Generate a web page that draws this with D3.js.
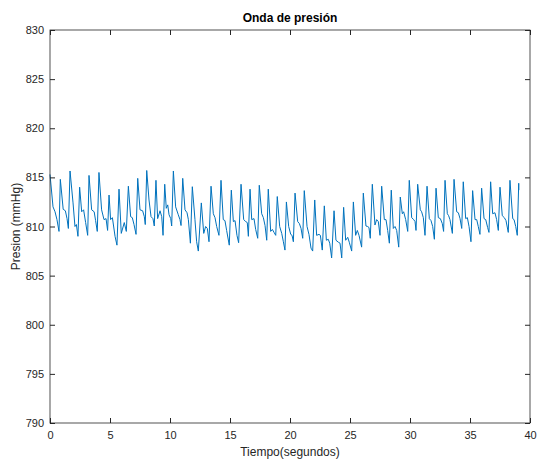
<!DOCTYPE html>
<html>
<head>
<meta charset="utf-8">
<title>Onda de presión</title>
<script src="https://d3js.org/d3.v7.min.js"></script>
<style>
  body { margin: 0; background: #fff; font-family: "Liberation Sans", Arial, sans-serif; }
</style>
</head>
<body>
<svg id="chart" width="537" height="459"></svg>
<script>
var tiempo = [
  0.00, 0.25, 0.42, 0.58, 0.75, 0.86, 1.10, 1.28, 1.42, 1.53,
  1.67, 1.92, 2.08, 2.20, 2.33, 2.47, 2.64, 2.80, 2.97, 3.14,
  3.25, 3.47, 3.68, 3.80, 3.94, 4.08, 4.30, 4.50, 4.67, 4.80,
  4.92, 5.05, 5.20, 5.42, 5.58, 5.75, 5.94, 6.19, 6.36, 6.53,
  6.72, 6.86, 7.00, 7.17, 7.31, 7.50, 7.72, 7.86, 7.94, 8.06,
  8.25, 8.42, 8.58, 8.69, 8.83, 8.97, 9.17, 9.31, 9.42, 9.56,
  9.69, 9.81, 9.92, 10.06, 10.14, 10.28, 10.47, 10.69, 10.83, 10.92,
  11.06, 11.25, 11.42, 11.53, 11.70, 11.86, 12.08, 12.22, 12.36, 12.61,
  12.81, 12.97, 13.11, 13.25, 13.42, 13.61, 13.75, 13.89, 14.08, 14.25,
  14.44, 14.58, 14.72, 14.94, 15.11, 15.28, 15.42, 15.58, 15.72, 15.92,
  16.14, 16.31, 16.44, 16.53, 16.67, 16.81, 17.00, 17.14, 17.31, 17.44,
  17.64, 17.78, 17.92, 18.06, 18.19, 18.39, 18.53, 18.67, 18.81, 18.94,
  19.14, 19.31, 19.44, 19.58, 19.70, 19.89, 20.06, 20.17, 20.28, 20.42,
  20.64, 20.78, 20.92, 21.06, 21.19, 21.42, 21.58, 21.75, 21.89, 22.06,
  22.22, 22.42, 22.53, 22.69, 22.86, 23.03, 23.19, 23.31, 23.47, 23.67,
  23.83, 24.03, 24.17, 24.31, 24.47, 24.64, 24.81, 24.94, 25.14, 25.28,
  25.47, 25.61, 25.75, 25.97, 26.11, 26.33, 26.47, 26.58, 26.69, 26.86,
  27.08, 27.22, 27.36, 27.50, 27.64, 27.86, 28.00, 28.14, 28.28, 28.44,
  28.61, 28.75, 28.89, 29.06, 29.19, 29.36, 29.47, 29.64, 29.81, 29.94,
  30.14, 30.31, 30.42, 30.50, 30.64, 30.86, 30.97, 31.11, 31.25, 31.42,
  31.61, 31.75, 31.89, 32.03, 32.17, 32.36, 32.53, 32.69, 32.80, 32.92,
  33.11, 33.22, 33.33, 33.53, 33.67, 33.89, 34.03, 34.17, 34.31, 34.44,
  34.64, 34.78, 34.92, 35.08, 35.22, 35.42, 35.56, 35.69, 35.83, 35.97,
  36.17, 36.31, 36.47, 36.58, 36.72, 36.89, 37.08, 37.22, 37.36, 37.50,
  37.69, 37.86, 38.00, 38.19, 38.33, 38.56, 38.67, 38.81, 38.94, 39.06,
  39.07
];
var presion = [
  815.3, 812.0, 811.5, 810.7, 809.5, 814.8, 811.75, 811.6, 810.8, 809.8,
  815.65, 812.4, 810.0, 810.2, 809.0, 814.0, 811.5, 811.7, 810.4, 809.1,
  815.2, 811.7, 811.5, 810.6, 809.5, 815.5, 811.7, 810.7, 810.8, 809.6,
  813.2, 810.7, 810.9, 809.0, 808.1, 813.8, 809.3, 810.4, 809.5, 814.1,
  811.0, 810.9, 810.2, 809.2, 814.9, 811.7, 811.6, 811.0, 810.2, 815.7,
  812.7, 811.0, 810.8, 810.05, 814.7, 810.8, 811.6, 811.0, 809.1, 814.3,
  811.85, 812.2, 811.2, 810.8, 810.05, 815.65, 812.0, 811.2, 810.7, 810.1,
  814.9, 811.7, 811.4, 810.7, 808.3, 814.05, 810.7, 808.45, 807.5, 812.4,
  809.3, 810.0, 809.8, 808.45, 814.1, 811.3, 810.9, 810.0, 809.1, 814.7,
  810.7, 810.6, 809.6, 808.1, 813.7, 810.5, 810.6, 809.1, 808.35, 814.3,
  810.7, 810.5, 810.4, 809.0, 813.8, 810.7, 810.8, 809.7, 808.8, 814.2,
  811.3, 810.9, 810.1, 808.6, 813.8, 809.5, 809.7, 809.4, 809.1, 813.05,
  810.0, 809.3, 808.5, 807.6, 812.5, 810.0, 809.2, 809.1, 808.45, 813.4,
  810.5, 810.3, 809.8, 808.8, 813.65, 810.0, 809.2, 807.8, 807.5, 812.7,
  809.1, 809.2, 809.1, 807.6, 812.1, 808.6, 808.7, 808.3, 806.8, 811.6,
  808.6, 808.4, 808.3, 806.8, 811.95, 808.6, 808.9, 808.4, 807.5, 812.5,
  809.1, 809.6, 809.1, 807.9, 813.4, 810.05, 810.0, 809.9, 808.8, 814.3,
  810.15, 810.7, 810.5, 809.1, 814.1, 810.7, 810.7, 809.6, 808.3, 813.7,
  809.8, 810.0, 809.6, 807.9, 813.0, 811.3, 811.5, 810.7, 809.5, 814.7,
  810.9, 810.7, 810.5, 809.6, 814.3, 811.7, 811.5, 810.9, 809.1, 814.1,
  810.8, 810.6, 810.0, 808.7, 813.9, 810.9, 810.8, 810.3, 809.5, 814.7,
  811.3, 811.1, 810.7, 809.3, 814.8, 811.5, 811.4, 810.8, 809.8, 814.55,
  810.8, 810.9, 810.0, 808.45, 813.65, 810.7, 810.7, 810.0, 809.2, 813.9,
  810.8, 810.7, 809.9, 809.4, 814.55, 811.3, 811.4, 810.7, 809.6, 814.0,
  811.1, 810.9, 810.6, 809.4, 814.7, 810.8, 810.7, 810.0, 809.1, 814.4,
  813.7
];
var xTicks = [0, 5, 10, 15, 20, 25, 30, 35, 40];
var yTicks = [790, 795, 800, 805, 810, 815, 820, 825, 830];

var margin = {top: 30, right: 7, bottom: 36, left: 50},
    width = 537 - margin.left - margin.right,
    height = 459 - margin.top - margin.bottom;

var axisColor = "#262626";

var svg = d3.select("#chart")
  .append("g")
  .attr("transform", "translate(" + margin.left + "," + margin.top + ")");

var x = d3.scaleLinear().domain([0, 40]).range([0, width]);
var y = d3.scaleLinear().domain([790, 830]).range([height, 0]);

var pts = tiempo.map(function(t, i) { return [t, presion[i]]; });

var line = d3.line()
  .x(function(d) { return x(d[0]); })
  .y(function(d) { return y(d[1]); });

svg.append("path")
  .datum(pts)
  .attr("fill", "none")
  .attr("stroke", "#0072BD")
  .attr("stroke-width", 1)
  .attr("stroke-linejoin", "round")
  .attr("d", line);

// axes, MATLAB style: inward ticks on all four sides
var tk = 5;
function styleAxis(g) {
  g.select(".domain").remove();
  g.selectAll(".tick line").attr("stroke", axisColor);
  g.selectAll(".tick text")
    .attr("fill", axisColor)
    .style("font-size", "11px")
    .style("font-family", "'Liberation Sans', Arial, sans-serif");
}

svg.append("g")
  .attr("transform", "translate(0," + height + ")")
  .call(d3.axisBottom(x).tickValues(xTicks).tickSizeInner(-tk).tickSizeOuter(0).tickPadding(8))
  .call(styleAxis);

svg.append("g")
  .call(d3.axisTop(x).tickValues(xTicks).tickSizeInner(-tk).tickSizeOuter(0).tickFormat(""))
  .call(styleAxis);

svg.append("g")
  .call(d3.axisLeft(y).tickValues(yTicks).tickSizeInner(-tk).tickSizeOuter(0).tickPadding(6))
  .call(styleAxis);

svg.append("g")
  .attr("transform", "translate(" + width + ",0)")
  .call(d3.axisRight(y).tickValues(yTicks).tickSizeInner(-tk).tickSizeOuter(0).tickFormat(""))
  .call(styleAxis);

svg.append("rect")
  .attr("x", 0).attr("y", 0)
  .attr("width", width).attr("height", height)
  .attr("fill", "none")
  .attr("stroke", axisColor)
  .attr("stroke-width", 0.8);

// labels
svg.append("text")
  .attr("x", width / 2)
  .attr("y", -8)
  .attr("text-anchor", "middle")
  .style("font-size", "12px")
  .style("font-weight", "bold")
  .attr("fill", "#000")
  .text("Onda de presión");

svg.append("text")
  .attr("x", width / 2)
  .attr("y", height + 33)
  .attr("text-anchor", "middle")
  .style("font-size", "12px")
  .attr("fill", axisColor)
  .text("Tiempo(segundos)");

svg.append("text")
  .attr("transform", "translate(-30," + (height / 2) + ")rotate(-90)")
  .attr("text-anchor", "middle")
  .style("font-size", "12px")
  .attr("fill", axisColor)
  .text("Presion (mmHg)");
</script>
</body>
</html>
